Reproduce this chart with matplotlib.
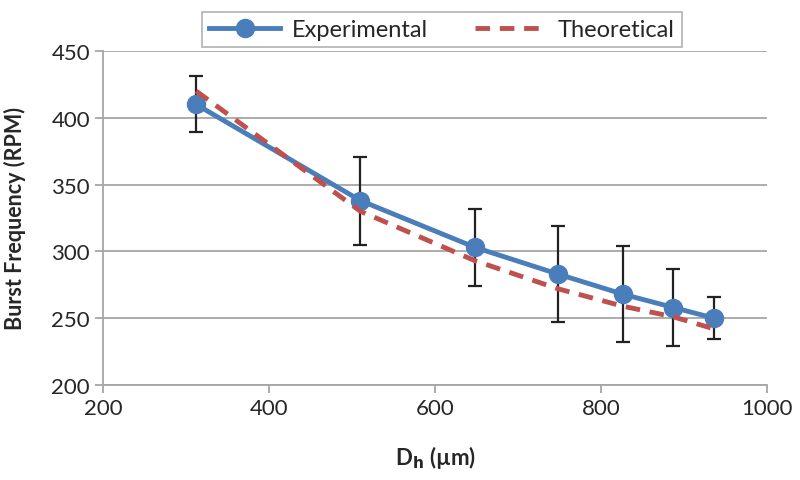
import matplotlib
matplotlib.use("Agg")
import matplotlib.pyplot as plt

plt.rcParams['font.family'] = ['Lato', 'DejaVu Sans']

dh = [312, 510, 648, 748, 826, 887, 936]
experimental = [410, 338, 303, 283, 268, 258, 250]
exp_err = [21, 33, 29, 36, 36, 29, 15.5]
theoretical = [420, 330, 293, 272, 259, 251, 242]

grey = "#a6a6a6"
blue = "#4a7ebb"
red = "#c0504d"
txt = "#262626"

fig = plt.figure(figsize=(8, 4.81), dpi=100)
ax = fig.add_axes([0.129, 0.1975, 0.83, 0.6945])

ax.errorbar(dh, experimental, yerr=exp_err, fmt='none', ecolor='#222222',
            elinewidth=1.6, capsize=5, capthick=1.6, zorder=2)
ax.plot(dh, experimental, color=blue, lw=3.5, marker='o', markersize=13,
        label='Experimental', zorder=3)
ax.plot(dh, theoretical, color=red, lw=3.5, ls=(0, (3, 2)),
        label='Theoretical', zorder=4)

ax.set_xlim(200, 1000)
ax.set_ylim(200, 450)
ax.set_xticks(range(200, 1001, 200))
ax.set_yticks(range(200, 451, 50))
ax.yaxis.grid(True, color=grey, lw=1.3)
ax.set_axisbelow(True)
for s in ['top', 'right']:
    ax.spines[s].set_visible(False)
for s in ['left', 'bottom']:
    ax.spines[s].set_color(grey)
    ax.spines[s].set_linewidth(1.3)
ax.tick_params(axis='both', colors=grey, length=6, width=1.3,
               labelsize=16, labelcolor=txt)

ax.set_xlabel('D$_\\mathbf{h}$ (µm)', fontsize=16, fontweight='bold',
              labelpad=18, color=txt)
ax.set_ylabel('Burst Frequency (RPM)', fontsize=15.5, fontweight='bold',
              labelpad=18, color=txt)

leg = ax.legend(loc='lower center', bbox_to_anchor=(0.51, 0.99), ncol=2,
                fontsize=17, frameon=True, fancybox=False, edgecolor=grey,
                handlelength=3.0, columnspacing=2.0, borderpad=0.3,
                handletextpad=0.5, borderaxespad=0.3)
leg.get_frame().set_linewidth(1.3)
for t in leg.get_texts():
    t.set_color(txt)

fig.savefig('out.png', dpi=100)
